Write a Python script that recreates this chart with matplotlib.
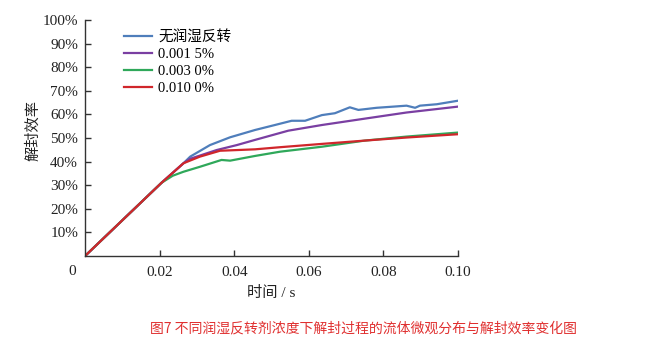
import matplotlib
matplotlib.use("Agg")
import matplotlib.pyplot as plt
from matplotlib.ticker import FuncFormatter

# ---- data ----
labels = ["无润湿反转", "0.001 5%", "0.003 0%", "0.010 0%"]
colors = ["#4F7EBB", "#7A3FA2", "#2FA85A", "#D0262B"]

t_blue = [0, 0.0205, 0.0264, 0.0282, 0.0335, 0.0389, 0.0456, 0.0509, 0.0554,
          0.059, 0.0635, 0.067, 0.071, 0.0733, 0.0782, 0.0827, 0.0862, 0.0885,
          0.0898, 0.0943, 0.100]
e_blue = [0, 31.0, 39.3, 42.1, 47.0, 50.3, 53.4, 55.5, 57.3,
          57.3, 59.7, 60.5, 63.0, 61.9, 62.8, 63.3, 63.7, 62.8,
          63.7, 64.3, 65.8]

t_purple = [0, 0.0205, 0.0264, 0.0282, 0.0353, 0.0407, 0.0456, 0.0545, 0.0635,
            0.075, 0.0862, 0.100]
e_purple = [0, 31.0, 39.3, 41.2, 44.9, 47.0, 49.2, 53.1, 55.5,
            58.2, 60.8, 63.3]

t_green = [0, 0.0205, 0.0235, 0.0264, 0.0308, 0.0366, 0.0389, 0.0456, 0.0523,
           0.0635, 0.075, 0.0862, 0.100]
e_green = [0, 31.0, 34.0, 35.7, 37.8, 40.7, 40.4, 42.4, 44.2,
           46.3, 48.9, 50.6, 52.3]

t_red = [0, 0.0205, 0.0264, 0.0308, 0.0362, 0.0456, 0.0523, 0.0635, 0.075,
         0.0862, 0.100]
e_red = [0, 31.0, 39.3, 42.1, 44.6, 45.2, 46.1, 47.5, 48.9,
         50.2, 51.6]

x_ticks = [0.02, 0.04, 0.06, 0.08, 0.10]
y_ticks = [10, 20, 30, 40, 50, 60, 70, 80, 90, 100]

series = [(t_blue, e_blue), (t_purple, e_purple), (t_green, e_green), (t_red, e_red)]

# ---- figure ----
serif = ["Liberation Serif", "Noto Sans CJK SC"]
plt.rcParams["font.family"] = serif

fig = plt.figure(figsize=(6.67, 3.61), dpi=100)
ax = fig.add_axes([85 / 667, 1 - 256 / 361, (458 - 85) / 667, (256 - 20) / 361])

for (t, e), c, lab in zip(series, colors, labels):
    ax.plot(t, e, color=c, lw=1.6, label=lab, solid_joinstyle="round")

ax.set_xlim(0, 0.10)
ax.set_ylim(0, 100)
ax.set_xticks(x_ticks)
ax.set_yticks(y_ticks)
ax.xaxis.set_major_formatter(FuncFormatter(lambda v, p: f"{v:.2f}"))
ax.yaxis.set_major_formatter(FuncFormatter(lambda v, p: f"{int(round(v))}%"))

for s in ["top", "right"]:
    ax.spines[s].set_visible(False)
for s in ["left", "bottom"]:
    ax.spines[s].set_linewidth(1.0)
    ax.spines[s].set_color("#333333")

ax.tick_params(axis="both", direction="in", length=4, width=1.0, colors="#333333",
               labelcolor="#222222", labelsize=11)
ax.tick_params(axis="x", pad=7)
ax.tick_params(axis="y", pad=5)

ax.annotate("0", xy=(0, 0), xycoords="data", xytext=(-9, -11), textcoords="offset points",
            ha="center", va="center", fontsize=11, color="#222222")

ax.set_xlabel("时间 / s", fontsize=11, color="#222222", labelpad=5)
ax.set_ylabel("解封效率", fontsize=11, color="#222222")
ax.yaxis.set_label_coords(-0.12, 0.53)

leg = ax.legend(loc="upper left", bbox_to_anchor=(0.09, 0.98), frameon=False,
                fontsize=10.5, handlelength=1.9, handletextpad=0.4,
                labelspacing=0.25, borderaxespad=0.0)

fig.text(364 / 667, 1 - 328 / 361, "图7 不同润湿反转剂浓度下解封过程的流体微观分布与解封效率变化图",
         ha="center", va="center", fontsize=10, color="#E03030",
         family=["Noto Sans CJK SC", "DejaVu Sans"])

fig.savefig("out.png", dpi=100, facecolor="white")
